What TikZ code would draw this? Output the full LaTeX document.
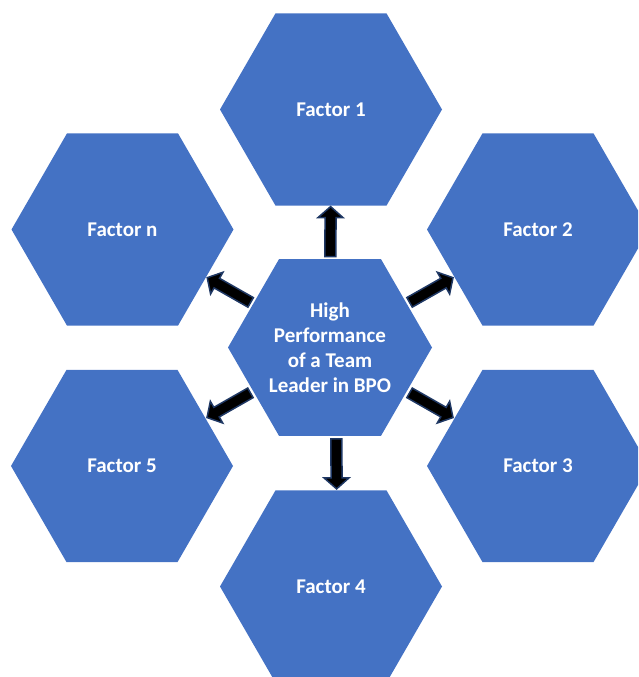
\documentclass[tikz,border=0pt]{standalone}
\usepackage{fontspec}
\setmainfont{Carlito}
\usetikzlibrary{shapes.geometric}
\definecolor{hexblue}{HTML}{4472C4}
\definecolor{arrowedge}{HTML}{1F3864}
\tikzset{
  hexbox/.style={regular polygon, regular polygon sides=6, shape border rotate=0,
    fill=hexblue, draw=none, inner sep=0pt, outer sep=0pt, minimum size=222pt,
    text=white, font=\fontsize{21}{25}\selectfont\bfseries, align=center},
  hubbox/.style={hexbox, minimum size=204pt},
  blockarrow/.pic={
    \path[fill=black, draw=arrowedge, line width=1.5pt, line join=miter]
      (-25,-5.5) -- (14,-5.5) -- (14,-12.5) -- (25,0) -- (14,12.5) -- (14,5.5) -- (-25,5.5) -- cycle;
  },
  outward/.style={pos=0.487, sloped, allow upside down}
}
\begin{document}
\begin{tikzpicture}[x=1pt, y=1pt]
  \useasboundingbox (0,0) rectangle (638,677);
  \clip (0,0) rectangle (638,677);

  % hub and surrounding factors
  \node[hubbox] (c)  at (330,329.5) {High\\Performance\\of a Team\\Leader in BPO};
  \node[hexbox] (f1) at (331,567.5) {Factor 1};
  \node[hexbox] (f2) at (538,447.5) {Factor 2};
  \node[hexbox] (f3) at (538,211)   {Factor 3};
  \node[hexbox] (f4) at (331,90.5)  {Factor 4};
  \node[hexbox] (f5) at (122,211)   {Factor 5};
  \node[hexbox] (fn) at (122.5,447.5) {Factor n};

  % block arrows from the hub outwards
  \path (c.center) -- (f1.center) pic[outward] {blockarrow};
  \path (c.center) -- (f2.center) pic[outward] {blockarrow};
  \path (c.center) -- (f3.center) pic[outward] {blockarrow};
  \path ([xshift=6pt]c.center) -- ([xshift=6pt]f4.center) pic[outward] {blockarrow};
  \path (c.center) -- (f5.center) pic[outward] {blockarrow};
  \path (c.center) -- (fn.center) pic[outward] {blockarrow};
\end{tikzpicture}
\end{document}
